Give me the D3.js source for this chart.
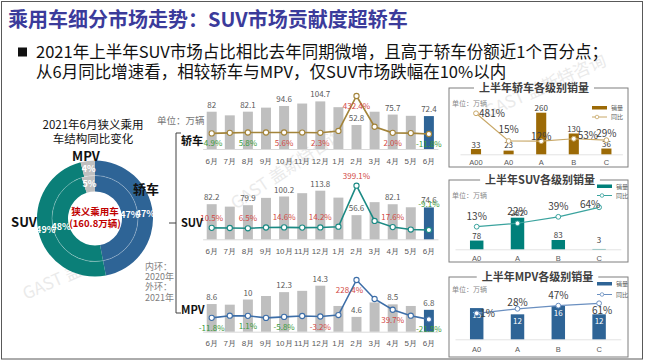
<!DOCTYPE html>
<html>
<head>
<meta charset="utf-8">
<script src="https://cdn.jsdelivr.net/npm/d3@7"></script>
<style>
body{margin:0;background:#fff}
svg{display:block;font-family:"Noto Sans CJK SC","Noto Sans",sans-serif}
</style>
</head>
<body>
<div id="slide"></div>
<script>
// ---- data ----
const title = '乘用车细分市场走势：SUV市场贡献度超轿车'
const bullets = ['2021年上半年SUV市场占比相比去年同期微增，且高于轿车份额近1个百分点；',
                 '从6月同比增速看，相较轿车与MPV，仅SUV市场跌幅在10%以内']

const pieTitle = ['2021年6月狭义乘用', '车结构同比变化']
const segments = ['轿车', 'SUV', 'MPV']
const share2021 = [47, 49, 4]
const share2020 = [47, 48, 5]
const centerText = ['狭义乘用车', '(160.8万辆)']
const ringNote = ['内环：', '2020年', '外环：', '2021年']

const unitText = '单位：万辆'
const months = ['6月','7月','8月','9月','10月','11月','12月','1月','2月','3月','4月','5月','6月']
const sedanSales = [82, 74, 82.1, 91, 94.6, 100, 104.7, 92, 52.8, 82, 75.7, 73, 72.4]
const sedanYoy = [-4.9, 2, 5.8, 6, 5.6, 5, 2.3, 24, 432.4, 73, 2.0, -1, -11.8]
const suvSales = [82.2, 76.5, 79.9, 97, 100.2, 108, 113.8, 97.6, 56.6, 87, 82.1, 75, 74.6]
const suvYoy = [10.5, 9, 6.5, 14, 14.6, 13, 14.2, 21, 399.1, 74, 17.6, -5, -9.1]
const mpvSales = [8.6, 8.4, 10, 11.1, 12.3, 12.7, 14.3, 8.0, 4.6, 9.1, 8.5, 8.0, 6.8]
const mpvYoy = [-11.8, 2, 1.1, -12, -5.8, 0, -3.2, 6, 228.4, 108, 39.7, 2, -21.5]

const legendNames = ['销量', '同比']
const sedanGrades = ['A00', 'A0', 'A', 'B', 'C']
const sedanGradeSales = [33, 23, 260, 130, 36]
const sedanGradeYoy = [481, 15, 12, 53, 29]
const suvGrades = ['A0', 'A', 'B', 'C']
const suvGradeSales = [78, 282, 83, 3]
const suvGradeYoy = [13, 22, 39, 64]
const mpvGrades = ['A0', 'A', 'B', 'C']
const mpvGradeSales = [15, 12, 16, 12]
const mpvGradeYoy = [1, 28, 47, 61]
const gradeTitles = ['上半年轿车各级别销量', '上半年SUV各级别销量', '上半年MPV各级别销量']

// ---- drawing ----
const svg = d3.select('#slide').append('svg').attr('width', 646).attr('height', 362)
const RED = '#d24a45', GREEN = '#3a9a3a', GREYTXT = '#595959'
const segColors = ['#2e6496', '#0b7f78', '#bfbfbf']

svg.append('rect').attr('x', 1.5).attr('y', 1.5).attr('width', 641).attr('height', 357.5)
  .attr('fill', '#fff').attr('stroke', '#595959').attr('stroke-width', 1)

// watermarks
const marks = [[26, 300, -24], [236, 210, -34], [488, 118, -24]]
svg.append('g').selectAll('text').data(marks).enter().append('text')
  .attr('transform', function(d) { return 'translate(' + d[0] + ',' + d[1] + ') rotate(' + d[2] + ')' })
  .attr('font-size', 17).attr('fill', '#9a9a9a').attr('opacity', 0.2)
  .text('GAST 盖斯特咨询')

svg.append('text').attr('x', 8).attr('y', 27).attr('font-size', 20).attr('font-weight', 'bold')
  .attr('fill', '#3b3b9b').text(title)
svg.append('rect').attr('x', 18).attr('y', 47.5).attr('width', 9).attr('height', 9).attr('fill', '#111')
svg.append('g').selectAll('text').data(bullets).enter().append('text')
  .attr('x', 36).attr('y', function(d, i) { return 58 + i * 20 })
  .attr('font-size', 16.5).attr('fill', '#111').text(function(d) { return d })

// ---- donut ----
svg.append('g').selectAll('text').data(pieTitle).enter().append('text')
  .attr('x', 93).attr('y', function(d, i) { return 129 + i * 14 })
  .attr('text-anchor', 'middle').attr('font-size', 11.5).attr('fill', '#111').text(function(d) { return d })

const pie = d3.pie().sort(null).value(function(d) { return d })
const outerArc = d3.arc().innerRadius(43).outerRadius(58)
const innerArc = d3.arc().innerRadius(27).outerRadius(43)
const donut = svg.append('g').attr('transform', 'translate(95,218.5)')
donut.selectAll('path.o').data(pie(share2021)).enter().append('path').attr('class', 'o')
  .attr('d', outerArc).attr('fill', function(d, i) { return segColors[i] })
donut.selectAll('path.i').data(pie(share2020)).enter().append('path').attr('class', 'i')
  .attr('d', innerArc).attr('fill', function(d, i) { return segColors[i] })
donut.append('circle').attr('r', 43).attr('fill', 'none').attr('stroke', '#fff').attr('stroke-opacity', 0.35).attr('stroke-width', 0.8)
donut.selectAll('text.o').data(pie(share2021)).enter().append('text').attr('class', 'o')
  .attr('transform', function(d) { return 'translate(' + outerArc.centroid(d) + ')' })
  .attr('dy', '0.35em').attr('text-anchor', 'middle').attr('font-size', 9).attr('font-weight', 'bold')
  .attr('fill', '#fff').text(function(d) { return d.data + '%' })
donut.selectAll('text.i').data(pie(share2020)).enter().append('text').attr('class', 'i')
  .attr('transform', function(d) { return 'translate(' + innerArc.centroid(d) + ')' })
  .attr('dy', '0.35em').attr('text-anchor', 'middle').attr('font-size', 9).attr('font-weight', 'bold')
  .attr('fill', '#fff').text(function(d) { return d.data + '%' })
donut.selectAll('text.c').data(centerText).enter().append('text').attr('class', 'c')
  .attr('y', function(d, i) { return -3.5 + i * 12 })
  .attr('text-anchor', 'middle').attr('font-size', 9.5).attr('font-weight', 'bold')
  .attr('fill', '#c00000').text(function(d) { return d })

const segLabelPos = [[146, 194], [24, 227], [86, 161]]
svg.append('g').selectAll('text').data(segments).enter().append('text')
  .attr('x', function(d, i) { return segLabelPos[i][0] }).attr('y', function(d, i) { return segLabelPos[i][1] })
  .attr('text-anchor', 'middle').attr('font-size', 13).attr('font-weight', 'bold').attr('fill', '#111')
  .text(function(d) { return d })

svg.append('g').selectAll('text').data(ringNote).enter().append('text')
  .attr('x', 145).attr('y', function(d, i) { return 270 + i * 10.2 })
  .attr('font-size', 9).attr('fill', '#7f7f7f').text(function(d) { return d })

// bracket
svg.append('path')
  .attr('d', 'M181,133H176V313H181M176,223H169')
  .attr('fill', 'none').attr('stroke', '#404040').attr('stroke-width', 1)

svg.append('text').attr('x', 157).attr('y', 124).attr('font-size', 9.5).attr('fill', '#767676').text(unitText)

// ---- monthly trend charts ----
const trends = [
  { name: '轿车', sales: sedanSales, yoy: sedanYoy, base: 149, top: 101.4, zero: 133, peak: 96,
    line: '#a3843a', labelDy: 13, green: [0, 2, 12], nameY: 145, nudge: {} },
  { name: 'SUV', sales: suvSales, yoy: suvYoy, base: 239.3, top: 190.7, zero: 229, peak: 185.7,
    line: '#1b8a84', labelDy: -7, green: [12], nameY: 227, nudge: { 12: [0, -23] } },
  { name: 'MPV', sales: mpvSales, yoy: mpvYoy, base: 331.7, top: 285.7, zero: 316, peak: 280,
    line: '#3d6ea8', labelDy: 13, green: [0, 2, 4, 12], nameY: 314, nudge: { 8: [-7, 0] } }
]
const idx = d3.range(months.length)
const xBand = d3.scaleBand().domain(idx).range([202.65, 437.95]).paddingInner(0.45).paddingOuter(0.225)

trends.forEach(function(c) {
  const g = svg.append('g')
  const ySales = d3.scaleLinear().domain([0, d3.max(c.sales)]).range([c.base, c.top])
  const yYoy = d3.scaleLinear().domain([0, d3.max(c.yoy)]).range([c.zero, c.peak])
  const cx = function(i) { return xBand(i) + xBand.bandwidth() / 2 }

  g.append('g').attr('transform', 'translate(0,' + c.base + ')')
    .call(d3.axisBottom(xBand).tickSize(0).tickPadding(9).tickFormat(function(i) { return months[i] }))
    .call(function(a) {
      a.select('.domain').attr('stroke', '#d9d9d9')
      a.selectAll('text').attr('font-size', 8).attr('fill', GREYTXT).attr('font-family', 'inherit')
    })

  g.selectAll('rect').data(c.sales).enter().append('rect')
    .attr('x', function(d, i) { return xBand(i) })
    .attr('y', function(d) { return ySales(d) })
    .attr('width', xBand.bandwidth())
    .attr('height', function(d) { return c.base - ySales(d) })
    .attr('fill', function(d, i) { return i === c.sales.length - 1 ? '#2e6496' : '#bfbfbf' })

  g.selectAll('text.v').data(c.sales.map(function(d, i) { return [d, i] }))
    .enter().filter(function(d) { return d[1] % 2 === 0 })
    .append('text').attr('class', 'v')
    .attr('x', function(d) { return cx(d[1]) })
    .attr('y', function(d) { return ySales(d[0]) - 4 })
    .attr('text-anchor', 'middle').attr('font-size', 8).attr('fill', GREYTXT)
    .text(function(d) { return d[0] })

  const line = d3.line().x(function(d, i) { return cx(i) }).y(function(d) { return yYoy(d) })
  g.append('path').datum(c.yoy).attr('d', line).attr('fill', 'none').attr('stroke', c.line).attr('stroke-width', 1.6)
  g.selectAll('circle').data(c.yoy).enter().append('circle')
    .attr('cx', function(d, i) { return cx(i) }).attr('cy', function(d) { return yYoy(d) })
    .attr('r', 2.6).attr('fill', '#fff').attr('stroke', c.line).attr('stroke-width', 1.1)

  g.selectAll('text.p').data(c.yoy.map(function(d, i) { return [d, i] }))
    .enter().filter(function(d) { return d[1] % 2 === 0 })
    .append('text').attr('class', 'p')
    .attr('x', function(d) { return cx(d[1]) + (c.nudge[d[1]] ? c.nudge[d[1]][0] : 0) })
    .attr('y', function(d) { return yYoy(d[0]) + (c.nudge[d[1]] && c.nudge[d[1]][1] ? c.nudge[d[1]][1] : c.labelDy) })
    .attr('text-anchor', 'middle').attr('font-size', 8)
    .attr('fill', function(d) { return c.green.indexOf(d[1]) >= 0 ? GREEN : RED })
    .text(function(d) { return d[0].toFixed(1) + '%' })

  svg.append('text').attr('x', 181).attr('y', c.nameY).attr('font-size', 11).attr('font-weight', 'bold')
    .attr('fill', '#111').text(c.name)
})

// ---- grade panels ----
const panels = [
  { title: gradeTitles[0], cats: sedanGrades, sales: sedanGradeSales, yoy: sedanGradeYoy,
    box: [449, 88, 628, 167], titleX: 534, xr: [460, 622.4], pi: 0.69, po: 0.336,
    base: 154.3, top: 112.7, yoyPx: [141.2, 113.3], bar: '#9c6a06', line: '#c8a868',
    inside: false, pad: 5.8, unitY: 105.5, legY: [106, 119], legX: 592,
    pos: [[16, 4], [0, -8.5], [0, -1], [14, 0], [0, -3.5]] },
  { title: gradeTitles[1], cats: suvGrades, sales: suvGradeSales, yoy: suvGradeYoy,
    box: [449, 180, 628, 262], titleX: 540, xr: [455, 620.8], pi: 0.67, po: 0.367,
    base: 249.3, top: 217.7, yoyPx: [226.7, 207.3], bar: '#00807a', line: '#3aa39e',
    inside: false, pad: 6, unitY: 197.5, legY: [184.5, 197.5], legX: 597,
    pos: [[0, -6.5], [0, -8], [0, -6.5], [-9, 0.5]] },
  { title: gradeTitles[2], cats: mpvGrades, sales: mpvGradeSales, yoy: mpvGradeYoy,
    box: [449, 277, 628, 357], titleX: 537.5, xr: [455, 620.8], pi: 0.67, po: 0.367,
    base: 339.3, top: 306, yoyPx: [313.3, 303.3], bar: '#2e6496', line: '#6a8fc0',
    inside: true, pad: 7, unitY: 291.5, legY: [282, 296.5], legX: 597,
    pos: [[11, 3.5], [0, -2.5], [0, -7], [3, 11]] }
]

panels.forEach(function(p) {
  const g = svg.append('g')
  const b = p.box
  g.append('rect').attr('x', b[0]).attr('y', b[1]).attr('width', b[2] - b[0]).attr('height', b[3] - b[1])
    .attr('fill', 'none').attr('stroke', '#7f7f7f').attr('stroke-width', 1)
  const t = g.append('text').attr('x', p.titleX).attr('y', b[1] + 4).attr('text-anchor', 'middle')
    .attr('font-size', 11).attr('font-weight', 'bold').attr('fill', '#404040').text(p.title)
  const tw = t.node().getComputedTextLength()
  g.insert('rect', 'text').attr('x', p.titleX - tw / 2 - 5).attr('y', b[1] - 2).attr('width', tw + 10).attr('height', 4).attr('fill', '#fff')

  g.append('text').attr('x', 452).attr('y', p.unitY).attr('font-size', 7).attr('fill', '#8a8a8a').text(unitText)

  const x = d3.scaleBand().domain(p.cats).range(p.xr).paddingInner(p.pi).paddingOuter(p.po)
  const y = d3.scaleLinear().domain([0, d3.max(p.sales)]).range([p.base, p.top])
  const yy = d3.scaleLinear().domain(d3.extent(p.yoy)).range(p.yoyPx)
  const cx = function(i) { return x(p.cats[i]) + x.bandwidth() / 2 }

  g.append('g').attr('transform', 'translate(0,' + p.base + ')')
    .call(d3.axisBottom(x).tickSize(0).tickPadding(p.pad))
    .call(function(a) {
      a.select('.domain').attr('stroke', '#e3e3e3')
      a.selectAll('text').attr('font-size', 7.5).attr('fill', GREYTXT).attr('font-family', 'inherit')
    })

  g.selectAll('rect.bar').data(p.sales).enter().append('rect').attr('class', 'bar')
    .attr('x', function(d, i) { return x(p.cats[i]) })
    .attr('y', function(d) { return y(d) })
    .attr('width', x.bandwidth())
    .attr('height', function(d) { return p.base - y(d) })
    .attr('fill', p.bar)

  g.selectAll('text.v').data(p.sales).enter().append('text').attr('class', 'v')
    .attr('x', function(d, i) { return cx(i) })
    .attr('y', function(d) { return p.inside ? y(d) + 10 : Math.min(y(d) - 1.5, p.base - 6) })
    .attr('text-anchor', 'middle').attr('font-size', 8)
    .attr('fill', p.inside ? '#fff' : '#404040')
    .text(function(d) { return d })

  const line = d3.line().x(function(d, i) { return cx(i) }).y(function(d) { return yy(d) })
  g.append('path').datum(p.yoy).attr('d', line).attr('fill', 'none').attr('stroke', p.line).attr('stroke-width', 1.2)
  g.selectAll('circle').data(p.yoy).enter().append('circle')
    .attr('cx', function(d, i) { return cx(i) }).attr('cy', function(d) { return yy(d) })
    .attr('r', 2.4).attr('fill', '#fff').attr('stroke', p.line).attr('stroke-width', 1)

  g.selectAll('text.p').data(p.yoy).enter().append('text').attr('class', 'p')
    .attr('x', function(d, i) { return cx(i) + p.pos[i][0] })
    .attr('y', function(d, i) { return yy(d) + p.pos[i][1] })
    .attr('text-anchor', 'middle').attr('font-size', 10).attr('fill', '#404040')
    .text(function(d) { return d + '%' })

  // legend
  g.append('rect').attr('x', p.legX).attr('y', p.legY[0]).attr('width', 15).attr('height', 3.5).attr('fill', p.bar)
  g.append('line').attr('x1', p.legX).attr('x2', p.legX + 15).attr('y1', p.legY[1] - 2).attr('y2', p.legY[1] - 2)
    .attr('stroke', p.line).attr('stroke-width', 1)
  g.append('circle').attr('cx', p.legX + 5).attr('cy', p.legY[1] - 2).attr('r', 1.8)
    .attr('fill', '#fff').attr('stroke', p.line).attr('stroke-width', 0.8)
  g.selectAll('text.lg').data(legendNames).enter().append('text').attr('class', 'lg')
    .attr('x', p.legX + 19).attr('y', function(d, i) { return i === 0 ? p.legY[0] + 4 : p.legY[1] })
    .attr('font-size', 6).attr('fill', GREYTXT).text(function(d) { return d })
})
</script>
</body>
</html>
